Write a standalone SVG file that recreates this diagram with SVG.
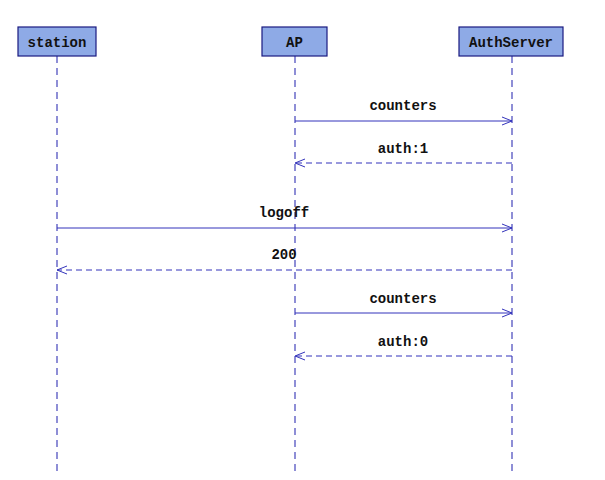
<svg xmlns="http://www.w3.org/2000/svg" width="605" height="480" viewBox="0 0 605 480">
<style>
.box{fill:#8eaae6;stroke:#1a1a80;stroke-width:1.2}
.lbl{font-family:"Liberation Mono","Courier New",monospace;font-weight:bold;font-size:14px;fill:#111;text-anchor:middle}
.life{stroke:#4444bb;stroke-width:1.2;stroke-dasharray:7,5;fill:none}
.msg{stroke:#3333bb;stroke-width:1;fill:none}
.ret{stroke:#3333bb;stroke-width:1;fill:none;stroke-dasharray:6,4}
</style>
<defs>
<marker id="ah" viewBox="0 0 10 10" refX="10" refY="5" markerWidth="10" markerHeight="10" markerUnits="userSpaceOnUse" orient="auto">
<path d="M0,1 L10,5 L0,9" fill="none" stroke="#3333bb" stroke-width="1"/>
</marker>
</defs>
<rect width="605" height="480" fill="#fff"/>
<g id="station">
<line class="life" x1="57" y1="56" x2="57" y2="472"/>
<rect class="box" x="18" y="27" width="78" height="29"/>
<text class="lbl" x="57" y="47">station</text>
</g>
<g id="AP">
<line class="life" x1="295" y1="56" x2="295" y2="472"/>
<rect class="box" x="262" y="27" width="65" height="29"/>
<text class="lbl" x="294.5" y="47">AP</text>
</g>
<g id="AuthServer">
<line class="life" x1="512" y1="56" x2="512" y2="472"/>
<rect class="box" x="459" y="27" width="104" height="29"/>
<text class="lbl" x="511" y="47">AuthServer</text>
</g>
<g id="connectors">
<line class="msg" x1="295" y1="121" x2="512" y2="121" marker-end="url(#ah)"/>
<text class="lbl" x="403" y="110">counters</text>
<line class="ret" x1="512" y1="163" x2="295" y2="163" marker-end="url(#ah)"/>
<text class="lbl" x="403" y="153">auth:1</text>
<line class="msg" x1="57" y1="228" x2="512" y2="228" marker-end="url(#ah)"/>
<text class="lbl" x="284" y="217">logoff</text>
<line class="ret" x1="512" y1="270" x2="57" y2="270" marker-end="url(#ah)"/>
<text class="lbl" x="284" y="259">200</text>
<line class="msg" x1="295" y1="313" x2="512" y2="313" marker-end="url(#ah)"/>
<text class="lbl" x="403" y="303">counters</text>
<line class="ret" x1="512" y1="356" x2="295" y2="356" marker-end="url(#ah)"/>
<text class="lbl" x="403" y="346">auth:0</text>
</g>
</svg>
